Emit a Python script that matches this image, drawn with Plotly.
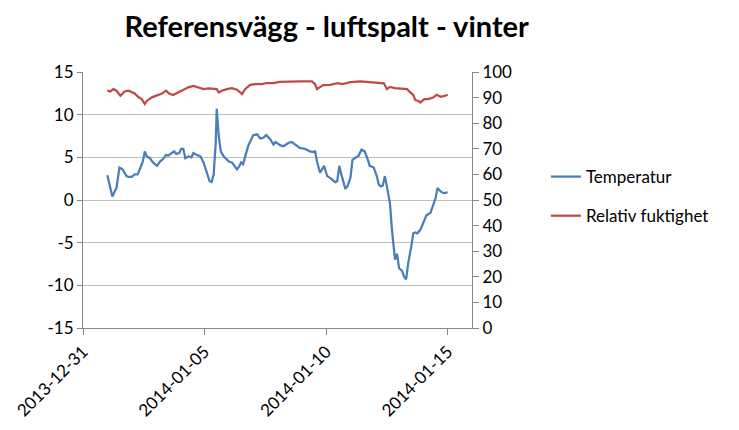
import plotly.graph_objects as go

temp_time = [
    "2014-01-01 00:00", "2014-01-01 05:00", "2014-01-01 08:00", "2014-01-01 09:00", "2014-01-01 12:00",
    "2014-01-01 15:00", "2014-01-01 19:00", "2014-01-01 21:00", "2014-01-02 00:00", "2014-01-02 03:00",
    "2014-01-02 06:00", "2014-01-02 08:00", "2014-01-02 11:00", "2014-01-02 13:00", "2014-01-02 15:00",
    "2014-01-02 18:00", "2014-01-02 21:00", "2014-01-03 01:00", "2014-01-03 04:00", "2014-01-03 07:00",
    "2014-01-03 10:00", "2014-01-03 12:00", "2014-01-03 15:00", "2014-01-03 18:00", "2014-01-03 20:00",
    "2014-01-03 23:00", "2014-01-04 01:00", "2014-01-04 03:00", "2014-01-04 05:00", "2014-01-04 08:00",
    "2014-01-04 11:00", "2014-01-04 13:00", "2014-01-04 16:00", "2014-01-04 20:00", "2014-01-04 23:00",
    "2014-01-05 02:00", "2014-01-05 05:00", "2014-01-05 07:00", "2014-01-05 09:00", "2014-01-05 11:00",
    "2014-01-05 12:00", "2014-01-05 14:00", "2014-01-05 16:00", "2014-01-05 19:00", "2014-01-05 22:00",
    "2014-01-06 00:00", "2014-01-06 03:00", "2014-01-06 06:00", "2014-01-06 08:00", "2014-01-06 10:00",
    "2014-01-06 12:00", "2014-01-06 14:00", "2014-01-06 16:00", "2014-01-06 19:00", "2014-01-06 22:00",
    "2014-01-07 00:00", "2014-01-07 04:00", "2014-01-07 07:00", "2014-01-07 10:00", "2014-01-07 13:00",
    "2014-01-07 17:00", "2014-01-07 20:00", "2014-01-07 22:00", "2014-01-08 03:00", "2014-01-08 06:00",
    "2014-01-08 11:00", "2014-01-08 14:00", "2014-01-08 17:00", "2014-01-08 22:00", "2014-01-09 03:00",
    "2014-01-09 08:00", "2014-01-09 12:00", "2014-01-09 13:00", "2014-01-09 15:00", "2014-01-09 18:00",
    "2014-01-09 22:00", "2014-01-10 01:00", "2014-01-10 04:00", "2014-01-10 09:00", "2014-01-10 11:00",
    "2014-01-10 13:00", "2014-01-10 15:00", "2014-01-10 19:00", "2014-01-10 21:00", "2014-01-11 00:00",
    "2014-01-11 02:00", "2014-01-11 06:00", "2014-01-11 08:00", "2014-01-11 11:00", "2014-01-11 14:00",
    "2014-01-11 17:00", "2014-01-11 19:00", "2014-01-11 23:00", "2014-01-12 02:00", "2014-01-12 04:00",
    "2014-01-12 06:00", "2014-01-12 08:00", "2014-01-12 10:00", "2014-01-12 12:00", "2014-01-12 15:00",
    "2014-01-12 17:00", "2014-01-12 20:00", "2014-01-12 22:00", "2014-01-13 00:00", "2014-01-13 03:00",
    "2014-01-13 05:00", "2014-01-13 07:00", "2014-01-13 09:00", "2014-01-13 12:00", "2014-01-13 14:00",
    "2014-01-13 16:00", "2014-01-13 18:00", "2014-01-13 21:00", "2014-01-14 00:00", "2014-01-14 03:00",
    "2014-01-14 07:00", "2014-01-14 09:00", "2014-01-14 12:00", "2014-01-14 14:00", "2014-01-14 17:00",
    "2014-01-14 20:00", "2014-01-15 00:00",
]
temperatur = [
    2.9, 0.4, 1.2, 1.4, 3.8,
    3.6, 2.8, 2.7, 2.7, 3.0,
    3.0, 3.6, 4.5, 5.7, 5.1,
    4.9, 4.4, 4.0, 4.5, 4.8,
    5.3, 5.2, 5.5, 5.7, 5.4,
    5.5, 6.0, 6.0, 4.9, 5.1,
    5.0, 5.5, 5.3, 5.1, 4.4,
    3.4, 2.2, 2.1, 3.0, 6.7,
    10.7, 7.5, 5.7, 5.1, 4.7,
    4.5, 4.4, 4.0, 3.6, 3.9,
    4.4, 4.2, 5.1, 6.3, 7.1,
    7.6, 7.7, 7.2, 7.3, 7.6,
    7.1, 6.5, 6.8, 6.4, 6.3,
    6.7, 6.8, 6.5, 6.1, 6.0,
    5.7, 5.6, 5.8, 4.5, 3.2,
    4.0, 2.8, 2.6, 2.1, 2.2,
    4.0, 3.0, 1.3, 1.6, 2.6,
    4.7, 5.1, 5.2, 5.9, 5.7,
    4.8, 4.0, 3.8, 2.8, 1.8,
    1.6, 1.7, 2.8, 1.6, -0.4,
    -3.5, -7.0, -6.3, -8.0, -8.3,
    -9.0, -9.3, -7.4, -5.5, -3.9,
    -3.8, -3.9, -3.5, -2.7, -1.8,
    -1.5, -0.9, 0.2, 1.4, 1.0,
    0.8, 0.9,
]

rh_time = [
    "2014-01-01 00:00", "2014-01-01 03:00", "2014-01-01 06:00", "2014-01-01 09:00", "2014-01-01 13:00",
    "2014-01-01 17:00", "2014-01-01 21:00", "2014-01-02 00:00", "2014-01-02 03:00", "2014-01-02 07:00",
    "2014-01-02 10:00", "2014-01-02 13:00", "2014-01-02 15:00", "2014-01-02 20:00", "2014-01-03 01:00",
    "2014-01-03 06:00", "2014-01-03 10:00", "2014-01-03 13:00", "2014-01-03 17:00", "2014-01-03 22:00",
    "2014-01-04 03:00", "2014-01-04 08:00", "2014-01-04 13:00", "2014-01-04 18:00", "2014-01-04 23:00",
    "2014-01-05 04:00", "2014-01-05 09:00", "2014-01-05 12:00", "2014-01-05 14:00", "2014-01-05 17:00",
    "2014-01-05 22:00", "2014-01-06 03:00", "2014-01-06 08:00", "2014-01-06 13:00", "2014-01-06 16:00",
    "2014-01-06 21:00", "2014-01-07 02:00", "2014-01-07 09:00", "2014-01-07 13:00", "2014-01-07 20:00",
    "2014-01-08 02:00", "2014-01-08 12:00", "2014-01-08 22:00", "2014-01-09 10:00", "2014-01-09 13:00",
    "2014-01-09 15:00", "2014-01-09 18:00", "2014-01-09 21:00", "2014-01-10 04:00", "2014-01-10 11:00",
    "2014-01-10 16:00", "2014-01-11 00:00", "2014-01-11 10:00", "2014-01-11 19:00", "2014-01-12 05:00",
    "2014-01-12 09:00", "2014-01-12 12:00", "2014-01-12 15:00", "2014-01-12 20:00", "2014-01-13 03:00",
    "2014-01-13 08:00", "2014-01-13 11:00", "2014-01-13 14:00", "2014-01-13 16:00", "2014-01-13 19:00",
    "2014-01-13 21:00", "2014-01-14 01:00", "2014-01-14 05:00", "2014-01-14 10:00", "2014-01-14 13:00",
    "2014-01-14 17:00", "2014-01-14 21:00", "2014-01-15 00:00",
]
relativ_fuktighet = [
    92.7, 92.4, 93.3, 92.7, 90.7,
    92.4, 92.7, 92.3, 91.6, 90.1,
    89.4, 87.5, 88.7, 90.1, 90.7,
    91.6, 92.7, 91.6, 91.0, 92.0,
    92.7, 94.0, 94.6, 94.0, 93.3,
    93.6, 93.3, 93.3, 92.0, 92.7,
    93.3, 93.7, 93.1, 91.4, 93.3,
    95.0, 95.3, 95.3, 95.7, 95.7,
    96.1, 96.3, 96.3, 96.3, 95.3,
    93.3, 94.0, 94.9, 95.0, 95.6,
    95.3, 96.0, 96.3, 96.0, 95.7,
    95.6, 93.3, 94.2, 93.7, 93.6,
    93.3, 92.0, 91.1, 89.0, 88.7,
    88.1, 89.4, 89.4, 90.1, 91.1,
    90.3, 90.7, 91.1,
]

x_tick_vals = ["2013-12-31", "2014-01-05", "2014-01-10", "2014-01-15"]
x_tick_text = ["2013-12-31", "2014-01-05", "2014-01-10", "2014-01-15"]
y_tick_vals = [-15, -10, -5, 0, 5, 10, 15]
y_tick_text = ["-15", "-10", "-5", "0", "5", "10", "15"]

FONT = "Lato, 'Open Sans', sans-serif"
AXIS_COLOR = "#868686"
GRID_COLOR = "#bfbfbf"

fig = go.Figure()
fig.add_trace(go.Scatter(
    x=temp_time, y=temperatur, name="Temperatur", mode="lines",
    line=dict(color="#4A7EBB", width=2.25), legendgroup="a", yaxis="y",
))
fig.add_trace(go.Scatter(
    x=rh_time, y=relativ_fuktighet, name="Relativ fuktighet", mode="lines",
    line=dict(color="#BE4B48", width=2.25), legendgroup="b", yaxis="y2",
))

fig.update_layout(
    width=731, height=422,
    margin=dict(l=75, r=267, t=64, b=102, autoexpand=False),
    paper_bgcolor="white", plot_bgcolor="white",
    font=dict(family=FONT, size=17, color="#000000"),
    title=dict(
        text="<b>Referensvägg - luftspalt - vinter</b>",
        font=dict(family=FONT, size=29, color="#000000"),
        x=0.436, xanchor="center", xref="container",
        y=0.955, yanchor="middle", yref="container",
    ),
    showlegend=True,
    legend=dict(
        x=1.19, xanchor="left", y=0.66, yanchor="top",
        font=dict(family=FONT, size=17, color="#000000"),
        tracegroupgap=14, traceorder="grouped",
        bgcolor="rgba(0,0,0,0)",
    ),
    xaxis=dict(
        type="date",
        range=["2013-12-31", "2014-01-16"],
        tickvals=x_tick_vals, ticktext=x_tick_text,
        tickangle=-45, automargin=False,
        showgrid=False, showline=True, linecolor=AXIS_COLOR, linewidth=1,
        ticks="outside", ticklen=6, tickcolor=AXIS_COLOR,
        tickfont=dict(family=FONT, size=17, color="#000000"),
        zeroline=False,
    ),
    yaxis=dict(
        range=[-15, 15], tickvals=y_tick_vals, ticktext=y_tick_text, automargin=False,
        showgrid=True, gridcolor=GRID_COLOR, gridwidth=1,
        showline=True, linecolor=AXIS_COLOR, linewidth=1,
        ticks="outside", ticklen=5, tickcolor=AXIS_COLOR,
        zeroline=False,
        tickfont=dict(family=FONT, size=17, color="#000000"),
    ),
    yaxis2=dict(
        range=[0, 100], dtick=10, tick0=0, automargin=False,
        overlaying="y", side="right",
        showgrid=False,
        showline=True, linecolor=AXIS_COLOR, linewidth=1,
        ticks="outside", ticklen=6, tickcolor=AXIS_COLOR,
        zeroline=False,
        tickfont=dict(family=FONT, size=17, color="#000000"),
    ),
)

fig.write_html("out.html")
